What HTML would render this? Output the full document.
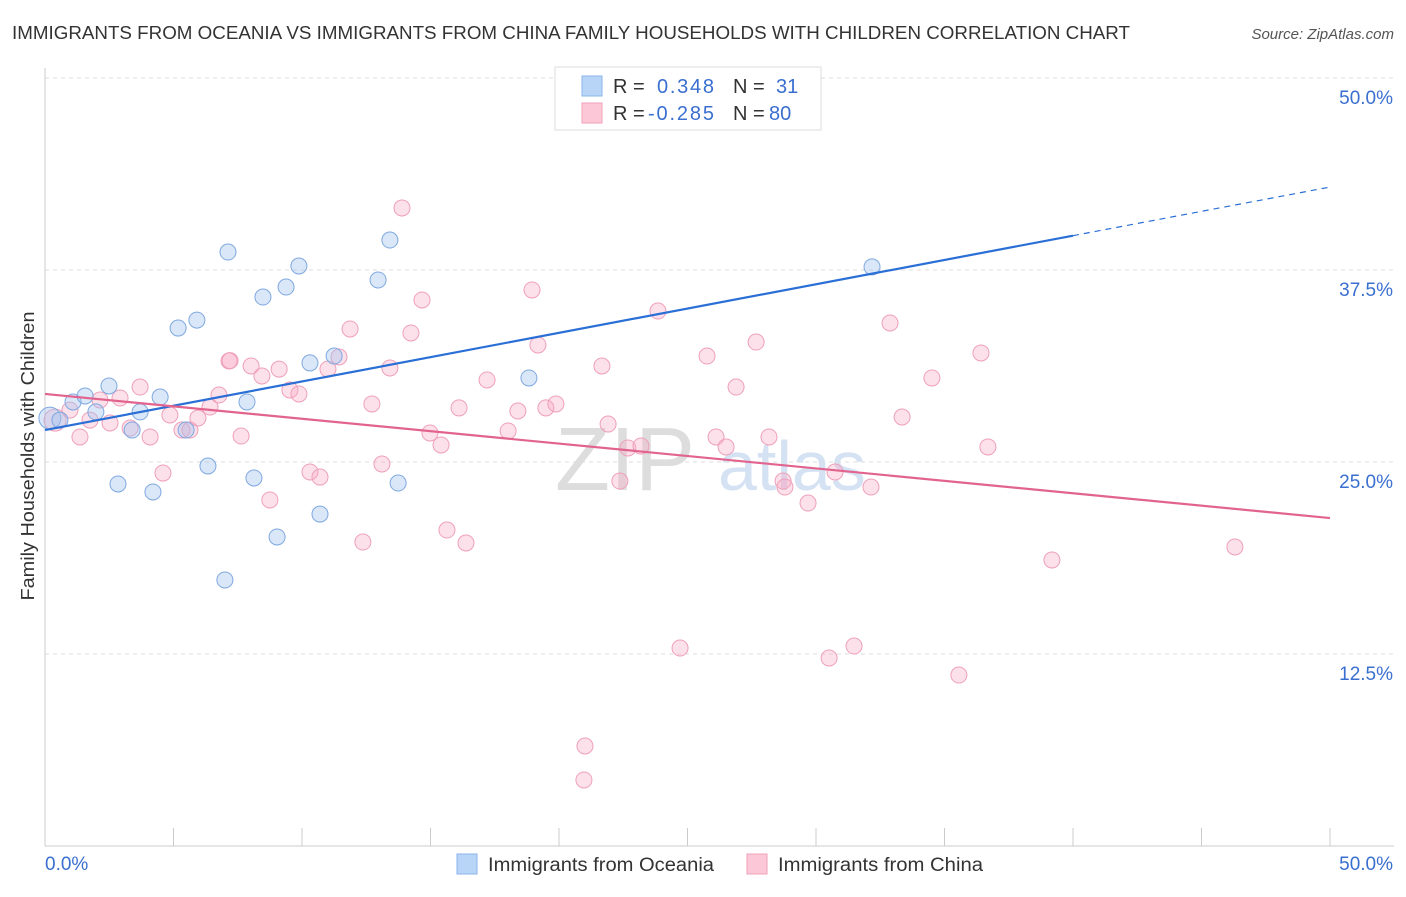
<!DOCTYPE html>
<html><head><meta charset="utf-8"><style>
body{margin:0;background:#fff;font-family:"Liberation Sans",sans-serif}
svg text{font-family:"Liberation Sans",sans-serif}
</style></head><body>
<svg id="chart" width="1406" height="892">
<text x="12" y="39" font-size="18" textLength="1118" lengthAdjust="spacingAndGlyphs" fill="#333">IMMIGRANTS FROM OCEANIA VS IMMIGRANTS FROM CHINA FAMILY HOUSEHOLDS WITH CHILDREN CORRELATION CHART</text>
<text x="1394" y="39" font-size="15" fill="#555" font-style="italic" text-anchor="end">Source: ZipAtlas.com</text>
<text x="34" y="456" font-size="18" textLength="289" lengthAdjust="spacingAndGlyphs" fill="#333" text-anchor="middle" transform="rotate(-90 34 456)">Family Households with Children</text>
<text x="555" y="490" font-size="90" fill="#ddd" font-family="Liberation Serif">ZIP</text>
<text x="718" y="490" font-size="70" fill="#d4e2f4">atlas</text>
<g id="grid"></g><g id="marks"></g>
<g>
<rect x="555" y="67" width="266" height="63" fill="#fff" stroke="#ddd"/>
<rect x="582" y="76" width="20" height="20" fill="#b8d4f6" stroke="#8ab4ea"/>
<rect x="582" y="103" width="20" height="20" fill="#fcc8d8" stroke="#f0a0b8"/>
<text x="613" y="93" font-size="20" fill="#333">R = </text><text x="657" y="93" font-size="20" textLength="57" fill="#3a6fd0">0.348</text>
<text x="733" y="93" font-size="20" fill="#333">N = </text><text x="776" y="93" font-size="20" fill="#3a6fd0">31</text>
<text x="613" y="120" font-size="20" fill="#333">R = </text><text x="648" y="120" font-size="20" textLength="66" fill="#3a6fd0">-0.285</text>
<text x="733" y="120" font-size="20" fill="#333">N = </text><text x="769" y="120" font-size="20" fill="#3a6fd0">80</text>
</g>
<g>
<rect x="457" y="854" width="20" height="20" fill="#b8d4f6" stroke="#8ab4ea"/>
<text x="488" y="871" font-size="19" textLength="226" lengthAdjust="spacingAndGlyphs" fill="#333">Immigrants from Oceania</text>
<rect x="747" y="854" width="20" height="20" fill="#fcc8d8" stroke="#f0a0b8"/>
<text x="778" y="871" font-size="19" textLength="205" lengthAdjust="spacingAndGlyphs" fill="#333">Immigrants from China</text>
</g>
</svg>
<script>
const yTicks=[12.5,25,37.5,50];
const yTickLabels=["12.5%","25.0%","37.5%","50.0%"];
const blueX=[0.19,0.58,1.09,1.56,1.98,2.49,2.84,3.39,3.70,4.20,4.48,5.18,5.49,5.91,6.34,7.00,7.12,7.86,8.13,8.48,9.03,9.38,9.88,10.31,10.70,11.25,12.96,13.42,13.74,18.83,32.18];
const blueY=[27.86,27.73,28.91,29.30,28.26,29.95,23.57,27.08,28.26,23.05,29.23,33.72,27.08,34.24,24.74,17.32,38.67,28.91,23.96,35.74,20.12,36.39,37.76,31.45,21.61,31.90,36.85,39.45,23.63,30.47,37.70];
const pinkX=[0.39,0.97,1.36,1.75,2.14,2.53,2.92,3.31,3.70,4.09,4.59,4.86,5.33,5.64,5.95,6.42,6.77,7.16,7.63,8.02,8.44,8.75,9.11,9.53,9.88,10.31,10.70,11.01,11.44,11.87,12.37,12.72,13.11,13.42,13.89,14.24,14.67,14.98,15.41,15.64,16.11,16.38,17.20,18.02,18.40,18.95,19.18,19.49,19.88,20.97,21.01,21.67,21.91,22.37,22.68,23.19,23.85,24.71,25.76,26.11,26.50,26.89,27.67,28.17,28.72,28.79,29.69,30.51,30.74,31.48,32.14,32.88,33.35,34.51,35.56,36.42,36.69,39.18,46.30,7.2];
const pinkY=[27.73,28.38,26.63,27.73,29.04,27.54,29.17,27.21,29.88,26.63,24.28,28.06,27.08,27.08,27.86,28.58,29.36,31.58,26.69,31.25,30.60,22.53,31.05,29.69,29.43,24.35,24.02,31.05,31.84,33.66,19.79,28.78,24.87,31.12,41.54,33.40,35.55,26.89,26.11,20.57,28.52,19.73,30.34,27.02,28.32,36.20,32.62,28.52,28.78,4.30,6.51,31.25,27.47,23.76,25.91,26.04,34.83,12.89,31.90,26.63,25.98,29.88,32.81,26.63,23.76,23.37,22.33,12.24,24.35,13.02,23.37,34.05,27.93,30.47,11.13,32.10,25.98,18.62,19.47,31.6];
const blueTrend=[27.08,42.9];
const pinkTrend=[29.43,21.35];
const NS="http://www.w3.org/2000/svg";
const X0=45,X1=1330,Y0=846,Y1=78;
const sx=v=>X0+(v/50)*(X1-X0);
const sy=v=>Y0-(v/50)*(Y0-Y1);
const grid=document.getElementById('grid'),marks=document.getElementById('marks');
function mk(tag,attrs,parent){const e=document.createElementNS(NS,tag);for(const k in attrs)e.setAttribute(k,attrs[k]);parent.appendChild(e);return e;}
let ax=mk('line',{x1:X0,y1:68,x2:X0,y2:Y0,stroke:'#ccc'},grid);


let bx=mk('line',{x1:X0,y1:Y0,x2:1394,y2:Y0,stroke:'#ccc'},grid);


yTicks.forEach((t,i)=>{
 let g=mk('line',{x1:X0,x2:1394,y1:sy(t),y2:sy(t),stroke:'#ddd','stroke-dasharray':'4,4'},grid);
 
 
 let tx=mk('text',{x:1393,y:sy(t)+26,'font-size':19,fill:'#3a6fd0','text-anchor':'end'},grid);
 tx.textContent=yTickLabels[i];
 
 
});
for(let i=0;i<=10;i++){
 let t=mk('line',{x1:sx(i*5),x2:sx(i*5),y1:Y0,y2:828,stroke:'#ccc'},grid);
 
 
}
[["0.0%",45,'start'],["50.0%",1393,'end']].forEach(a=>{
 let tx=mk('text',{x:a[1],y:870,'font-size':19,fill:'#3a6fd0','text-anchor':a[2]},grid);
 tx.textContent=a[0];
 
 
});
pinkX.forEach((x,i)=>{
 let c=mk('circle',{cx:sx(x),cy:sy(pinkY[i]),r:i==0?11:8,fill:'rgba(248,170,195,0.35)',stroke:'#eea0ba','stroke-width':1},marks);
 
 
});
blueX.forEach((x,i)=>{
 let c=mk('circle',{cx:sx(x),cy:sy(blueY[i]),r:i==0?11:8,fill:'rgba(160,195,240,0.4)',stroke:'#7fa8e0','stroke-width':1},marks);
 
 
});
const bAt=v=>blueTrend[0]+(blueTrend[1]-blueTrend[0])*v/50;
let l1=mk('line',{x1:sx(0),y1:sy(bAt(0)),x2:sx(40),y2:sy(bAt(40)),stroke:'#2a6fd6','stroke-width':2.2},marks);


let l2=mk('line',{x1:sx(40),y1:sy(bAt(40)),x2:sx(50),y2:sy(bAt(50)),stroke:'#2a6fd6','stroke-width':1.2,'stroke-dasharray':'6,5'},marks);


let l3=mk('line',{x1:sx(0),y1:sy(pinkTrend[0]),x2:sx(50),y2:sy(pinkTrend[1]),stroke:'#e2648e','stroke-width':2.2},marks);


</script>
</body></html>
